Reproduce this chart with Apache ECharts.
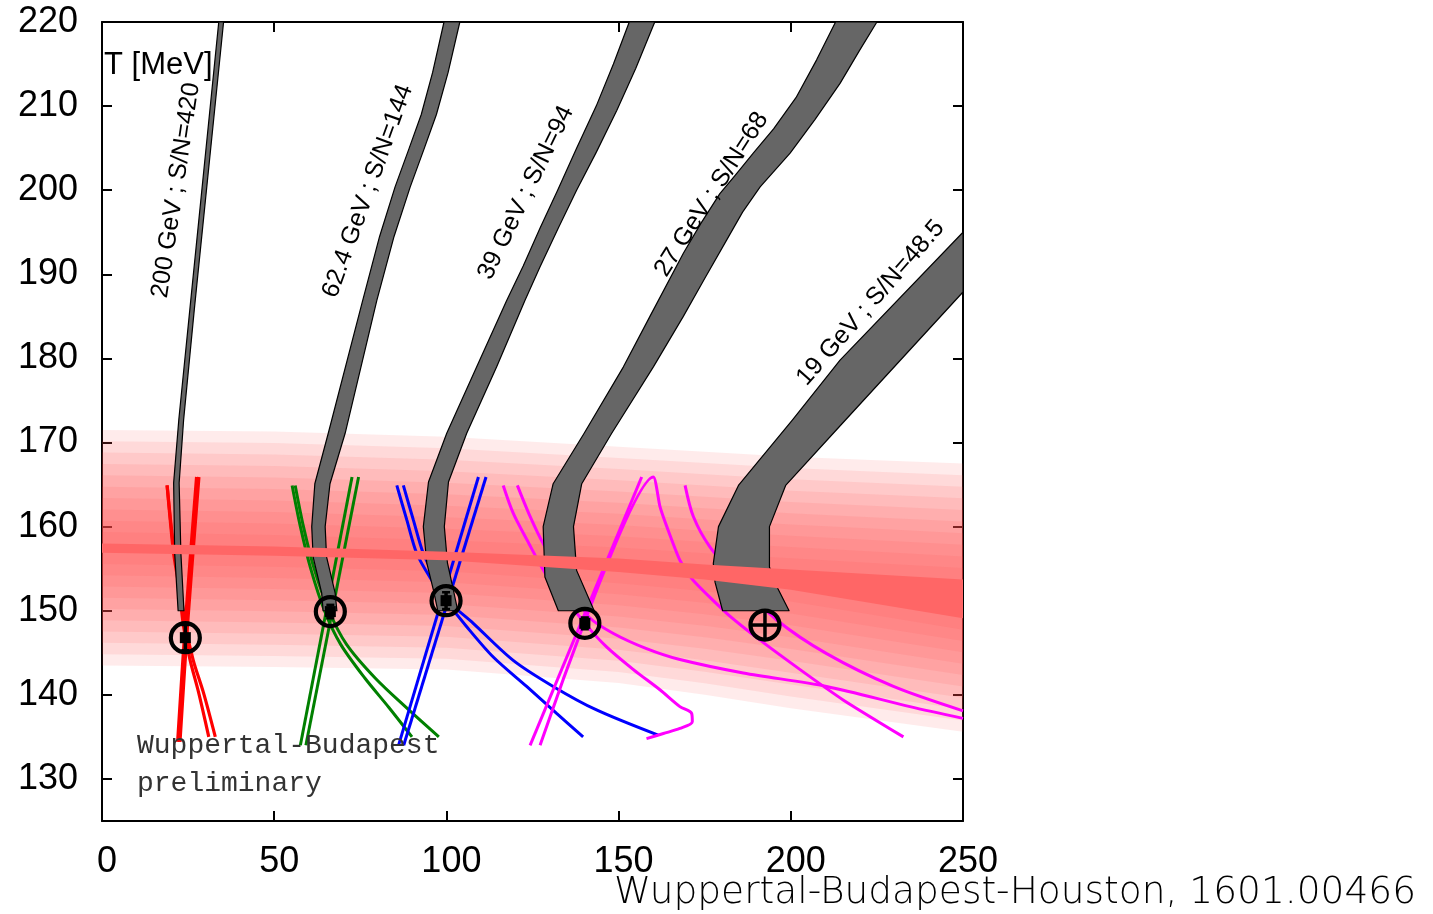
<!DOCTYPE html>
<html><head><meta charset="utf-8">
<script src="https://cdn.jsdelivr.net/npm/echarts@6/dist/echarts.min.js"></script>
<style>html,body{margin:0;padding:0;background:#fff;}#chart{width:1433px;height:914px;}</style>
</head><body><div id="chart"></div>
<script>
// ---------------- data ----------------
const xTicks = [0, 50, 100, 150, 200, 250];
const yTicks = [130, 140, 150, 160, 170, 180, 190, 200, 210, 220];

// crossover band (mu_B, T)
const tcMu = [0, 50, 100, 150, 175, 200, 225, 250];
const tcCenter = [157.45, 157.1, 156.5, 155.4, 154.6, 153.7, 152.55, 151.4];
const tcCenterErr = [0.55, 0.55, 0.5, 0.8, 0.9, 1.2, 1.75, 2.3];
const tcOuterTop = [171.5, 171.3, 170.7, 169.5, 168.9, 168.3, 167.9, 167.5];
const tcOuterBottom = [143.5, 143.3, 143.0, 141.4, 140.0, 138.4, 137.0, 135.6];

// isentropic trajectories: left / right edges as [mu_B, T]
const ise200Left = [[22.1,150],[21.1,156.9],[20.8,165.2],[22.3,172.7],[25.5,185.8],[33.9,220]];
const ise200Right = [[23.8,150],[22.9,156.9],[22.4,165.2],[23.7,172.7],[26.8,185.8],[35.3,220]];
const ise62Left = [[64.2,150],[63.8,152.1],[61.3,156.4],[60.9,160],[61.8,165.1],[65.7,171.1],[75.7,186.9],[80.6,194.5],[85.1,200.4],[89.2,205.0],[92.7,209.0],[96.0,214.0],[99.3,220]];
const ise62Right = [[68.2,150],[67.7,152.1],[65.2,156.4],[64.8,160],[66.2,165.1],[70.6,171.1],[79.8,186.9],[84.8,194.5],[89.5,200.4],[93.6,205.0],[97.1,209.0],[100.5,214.0],[103.9,220]];
const ise39Left = [[97.5,150],[96.2,152.5],[94.3,155.7],[93.3,160],[94.8,165.3],[100.1,171.1],[108.8,179],[117.5,186.9],[122.3,191.0],[127.2,195.5],[132.3,200.0],[137.8,205.0],[143.5,210.0],[148.5,215.0],[153.1,220]];
const ise39Right = [[103.3,150],[102.0,152.5],[100.3,155.7],[99.4,160],[100.6,165.3],[105.9,171.1],[114.6,179],[122.8,186.9],[127.2,190.9],[132.5,195.5],[137.8,200.0],[143.5,204.5],[149.5,209.5],[155.0,214.5],[160.5,220]];
const ise27Left = [[132.5,150],[128.6,154.0],[128.1,160],[131.0,165.1],[140.0,171.1],[151.4,179],[159.1,185],[168.8,192.5],[173.8,196.0],[179.4,199.6],[183.9,201.8],[189.1,204.4],[195.0,207.3],[201.5,211.0],[207.5,215.5],[213.0,220]];
const ise27Right = [[142.9,150],[137.8,154.8],[136.9,160],[139.3,165.1],[148.0,171.1],[160.1,179],[168.8,185],[175.0,189.5],[181.4,194.1],[186.0,197.4],[191.1,200.4],[199.8,204.4],[207.0,208.4],[214.3,212.7],[219.8,216.5],[225.0,220]];
const ise19Left = [[180.2,150],[178.0,153.4],[177.5,155.6],[179.0,160],[184.8,164.9],[200.5,172.7],[214.3,179.8],[250,195.0]];
const ise19Right = [[199.5,150],[195.9,152.9],[193.8,155.2],[193.8,160],[198.5,164.9],[214.8,172.2],[250,187.9]];

// chemical freeze-out constraint curves [mu_B, T]
const red1 = [[18.9,164.9],[19.8,160.8],[20.8,156.8],[22.3,152.9],[23.7,148.1],[25.6,144.1],[28.1,140.2],[31.0,135.0]];
const red2 = [[18.9,164.9],[19.9,160.8],[21.0,156.8],[22.6,152.9],[24.3,148.1],[26.5,144.1],[29.5,140.2],[32.9,135.0]];
const red3 = [[27.5,165.9],[24.3,148.9],[22.0,134.4]];
const red4 = [[28.1,165.9],[24.9,148.9],[22.6,134.4]];
const green1 = [[55.2,164.9],[57.6,160],[60.6,155],[64.6,150],[69.3,146],[76.3,142],[83.3,138.5],[90.0,135.0]];
const green2 = [[56.1,164.9],[58.5,160],[61.6,155],[65.9,150],[71.0,146],[79.3,142],[88.3,138.5],[97.8,135.0]];
const green3 = [[72.6,165.9],[57.6,134.0]];
const green4 = [[74.5,165.9],[59.2,134.0]];
const blue1 = [[85.6,164.9],[88.5,160.8],[91.4,156.8],[95.2,154.0],[99.9,151.2],[105.9,148.1],[113.6,144.5],[123.3,141.0],[132.0,137.8],[139.7,135.0]];
const blue2 = [[87.5,164.9],[90.4,160.8],[93.3,156.8],[96.7,154.0],[100.5,151.2],[107.8,148.5],[119.4,144.1],[131.0,141.0],[143.6,138.2],[161.5,135.2]];
const blue3 = [[109.3,165.9],[86.1,134.0]];
const blue4 = [[111.5,165.9],[87.6,134.0]];
const magenta1 = [[116.5,164.9],[119.4,161.6],[123.3,158.5],[129.1,154.2],[134.9,151.3],[140.2,148.5],[146.5,145.7],[154.3,143.0],[162.0,140.6],[167.8,138.6],[171.2,137.8],[171.4,136.8],[167.8,136.0],[163.0,135.4],[158.1,134.8]];
const magenta2 = [[120.6,164.9],[124.0,161.5],[128.1,158.0],[133.5,154.5],[138.0,151.5],[141.5,149.2],[148.5,147.3],[158.1,145.5],[167.8,144.2],[186.2,142.6],[210.4,141.0],[234.6,138.6],[250,137.2]];
const magenta3 = [[156.7,165.9],[124.3,134.0]];
const magenta4 = [[127.2,134.0],[160.1,165.9],[162.0,162.4],[164.0,160],[167.8,156],[171.7,153.6],[181.4,149.7],[191.1,146.5],[202.7,143.0],[215.2,139.4],[232.7,135.0]];
const magenta5 = [[169.3,164.9],[171.7,161.2],[176.5,157.6],[186.2,152.9],[195.9,148.9],[210.4,144.9],[229.8,141.0],[250,138.1]];

// freeze-out points
const foMu = [24.2, 66.3, 99.9, 140.2, 192.5];
const foT = [146.8, 149.9, 151.2, 148.5, 148.3];
const foMuErr = [0, 0, 0, 0, 4.3];
const foTErr = [1.5, 0.8, 1.0, 0.7, 1.7];
const foSquare = [1, 1, 1, 1, 0];

// band labels
const bandLabels = ['200 GeV ; S/N=420', '62.4 GeV ; S/N=144', '39 GeV ; S/N=94', '27 GeV ; S/N=68', '19 GeV ; S/N=48.5'];
const bandLabelPos = [[21.5,200.0],[77.2,199.9],[123.1,199.7],[177.0,199.5],[223.2,186.6]];
const bandLabelAngle = [81.5, 70.1, 64.1, 57.4, 48.8];

// ---------------- chart ----------------
const chart = echarts.init(document.getElementById('chart'), null, {renderer: 'canvas'});

function polygonSeries(left, right, z, style) {
  return {
    type: 'custom', coordinateSystem: 'cartesian2d', z: z, silent: true, animation: false,
    data: [[left[0][0], left[0][1]]],
    renderItem: function (params, api) {
      const pts = left.map(p => api.coord(p)).concat(right.slice().reverse().map(p => api.coord(p)));
      return {type: 'polygon', shape: {points: pts}, style: style};
    }
  };
}

const grayStyle = {fill: '#666666', stroke: '#000', lineWidth: 1.2, lineJoin: 'round'};

// layered crossover band
const nLayers = 10;
const bandLayerSeries = {
  type: 'custom', coordinateSystem: 'cartesian2d', z: 1, silent: true, animation: false,
  data: [[0, 157]],
  renderItem: function (params, api) {
    const children = [];
    for (let k = nLayers; k >= 1; k--) {
      const f = k / nLayers;
      const top = tcMu.map((m, i) => {
        const inner = tcCenter[i] + tcCenterErr[i];
        return api.coord([m, inner + (tcOuterTop[i] - inner) * f]);
      });
      const bot = tcMu.map((m, i) => {
        const inner = tcCenter[i] - tcCenterErr[i];
        return api.coord([m, inner + (tcOuterBottom[i] - inner) * f]);
      });
      children.push({type: 'polygon', shape: {points: top.concat(bot.reverse())},
        style: {fill: 'rgba(255,70,70,0.11)'}});
    }
    return {type: 'group', children: children};
  }
};

const centerBandSeries = {
  type: 'custom', coordinateSystem: 'cartesian2d', z: 4, silent: true, animation: false,
  data: [[0, 157]],
  renderItem: function (params, api) {
    const top = tcMu.map((m, i) => api.coord([m, tcCenter[i] + tcCenterErr[i]]));
    const bot = tcMu.map((m, i) => api.coord([m, tcCenter[i] - tcCenterErr[i]]));
    return {type: 'polygon', shape: {points: top.concat(bot.reverse())}, style: {fill: '#ff6666'}};
  }
};

function curve(data, color, width, smooth) {
  return {type: 'line', data: data, showSymbol: false, z: 2, silent: true, animation: false,
    smooth: smooth, lineStyle: {color: color, width: width}};
}

const foSeries = {
  type: 'custom', coordinateSystem: 'cartesian2d', z: 5, silent: true, animation: false,
  data: foMu.map((m, i) => [m, foT[i]]),
  renderItem: function (params, api) {
    const i = params.dataIndex;
    const c = api.coord([foMu[i], foT[i]]);
    const ch = [];
    const tLo = api.coord([foMu[i], foT[i] - foTErr[i]]);
    const tHi = api.coord([foMu[i], foT[i] + foTErr[i]]);
    ch.push({type: 'line', shape: {x1: c[0], y1: tLo[1], x2: c[0], y2: tHi[1]}, style: {stroke: '#000', lineWidth: 3.5}});
    if (foMuErr[i] > 0) {
      const mLo = api.coord([foMu[i] - foMuErr[i], foT[i]]);
      const mHi = api.coord([foMu[i] + foMuErr[i], foT[i]]);
      ch.push({type: 'line', shape: {x1: mLo[0], y1: c[1], x2: mHi[0], y2: c[1]}, style: {stroke: '#000', lineWidth: 3.5}});
    }
    if (foSquare[i]) {
      ch.push({type: 'line', shape: {x1: c[0] - 4, y1: tLo[1], x2: c[0] + 4, y2: tLo[1]}, style: {stroke: '#000', lineWidth: 2.5}});
      ch.push({type: 'line', shape: {x1: c[0] - 4, y1: tHi[1], x2: c[0] + 4, y2: tHi[1]}, style: {stroke: '#000', lineWidth: 2.5}});
      ch.push({type: 'rect', shape: {x: c[0] - 5.5, y: c[1] - 5.5, width: 11, height: 11}, style: {fill: '#000'}});
    }
    ch.push({type: 'circle', shape: {cx: c[0], cy: c[1], r: 14.5}, style: {fill: 'none', stroke: '#000', lineWidth: 4.2}});
    return {type: 'group', children: ch};
  }
};

const labelSeries = {
  type: 'custom', coordinateSystem: 'cartesian2d', z: 6, silent: true, animation: false,
  data: bandLabelPos,
  renderItem: function (params, api) {
    const i = params.dataIndex;
    const c = api.coord(bandLabelPos[i]);
    return {type: 'text', x: c[0], y: c[1], rotation: bandLabelAngle[i] * Math.PI / 180,
      style: {text: bandLabels[i], font: '25px "Liberation Sans", Arial, sans-serif', fill: '#000',
        align: 'center', verticalAlign: 'middle'}};
  }
};

const axisLineStyle = {show: true, onZero: false, lineStyle: {color: '#000', width: 2}};
const tickStyle = {show: true, inside: true, length: 10, lineStyle: {color: '#000', width: 2}};
const labelFont = {fontSize: 36, fontFamily: '"Liberation Sans", Arial, sans-serif', color: '#000'};

const option = {
  backgroundColor: '#fff',
  animation: false,
  grid: {left: 102, right: 470, top: 22, bottom: 93, show: false},
  xAxis: [
    {type: 'value', min: 0, max: 250, interval: 50, position: 'bottom', splitLine: {show: false},
      axisLine: axisLineStyle, axisTick: tickStyle,
      axisLabel: Object.assign({margin: 23, padding: [0, 0, 0, 10]}, labelFont)},
    {type: 'value', min: 0, max: 250, interval: 50, position: 'top', splitLine: {show: false},
      axisLine: axisLineStyle, axisTick: tickStyle, axisLabel: {show: false}}
  ],
  yAxis: [
    {type: 'value', min: 125, max: 220, position: 'left', splitLine: {show: false},
      axisLine: axisLineStyle, axisTick: Object.assign({customValues: yTicks}, tickStyle),
      axisLabel: Object.assign({margin: 24, customValues: yTicks, padding: [6, 0, 0, 0]}, labelFont)},
    {type: 'value', min: 125, max: 220, position: 'right', splitLine: {show: false},
      axisLine: axisLineStyle, axisTick: Object.assign({customValues: yTicks}, tickStyle),
      axisLabel: {show: false}}
  ],
  graphic: [
    {type: 'text', x: 104, y: 65, z: 10, style: {text: 'T [MeV]', font: '31px "Liberation Sans", Arial, sans-serif', fill: '#000', verticalAlign: 'middle'}},
    {type: 'text', x: 137, y: 746, z: 10, style: {text: 'Wuppertal-Budapest', font: '28px "Liberation Mono", monospace', fill: '#333', verticalAlign: 'middle'}},
    {type: 'text', x: 137, y: 784, z: 10, style: {text: 'preliminary', font: '28px "Liberation Mono", monospace', fill: '#333', verticalAlign: 'middle'}},
    {type: 'text', x: 1416, y: 893, z: 10, style: {text: 'Wuppertal-Budapest-Houston, 1601.00466', font: '200 37.5px "DejaVu Sans", sans-serif', fill: '#000', align: 'right', verticalAlign: 'middle'}}
  ],
  series: [
    bandLayerSeries,
    curve(red1, '#ff0000', 3.2, 0.3), curve(red2, '#ff0000', 3.2, 0.3),
    curve(red3, '#ff0000', 3.5, 0.3), curve(red4, '#ff0000', 3.5, 0.3),
    curve(green1, '#008000', 3, 0.3), curve(green2, '#008000', 3, 0.3),
    curve(green3, '#008000', 3, false), curve(green4, '#008000', 3, false),
    curve(blue1, '#0000ff', 3, 0.3), curve(blue2, '#0000ff', 3, 0.3),
    curve(blue3, '#0000ff', 3, false), curve(blue4, '#0000ff', 3, false),
    curve(magenta1, '#ff00ff', 3, 0.3), curve(magenta2, '#ff00ff', 3, 0.3),
    curve(magenta3, '#ff00ff', 3, false), curve(magenta4, '#ff00ff', 3, 0.2),
    curve(magenta5, '#ff00ff', 3, 0.3),
    polygonSeries(ise200Left, ise200Right, 3, grayStyle),
    polygonSeries(ise62Left, ise62Right, 3, grayStyle),
    polygonSeries(ise39Left, ise39Right, 3, grayStyle),
    polygonSeries(ise27Left, ise27Right, 3, grayStyle),
    polygonSeries(ise19Left, ise19Right, 3, grayStyle),
    centerBandSeries,
    foSeries,
    labelSeries
  ]
};
chart.setOption(option);
</script>
</body></html>
